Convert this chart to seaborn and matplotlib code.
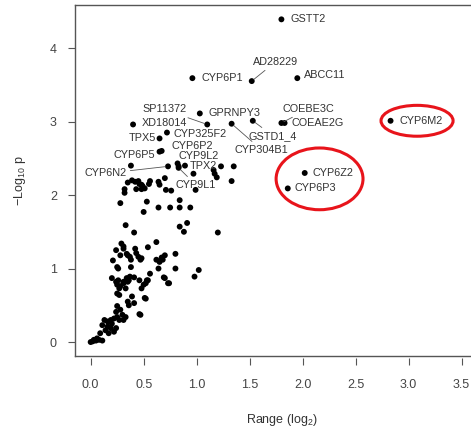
import pandas as pd
import seaborn as sns
import matplotlib.pyplot as plt
from matplotlib.patches import Ellipse

# labelled genes
genes = ["GSTT2", "AD28229", "CYP6P1", "ABCC11", "SP11372", "GPRNPY3", "XD18014",
         "CYP304B1", "GSTD1_4", "COEBE3C", "COEAE2G", "CYP6M2", "TPX5", "CYP325F2",
         "CYP6P5", "CYP6P2", "CYP9L2", "TPX2", "CYP9L1", "CYP6N2", "CYP6Z2", "CYP6P3"]
gene_range = [1.80, 1.52, 0.96, 1.95, 1.10, 1.03, 0.40,
              1.33, 1.53, 1.80, 1.83, 2.83, 0.65, 0.72,
              0.67, 0.82, 0.83, 0.89, 0.83, 0.73, 2.02, 1.86]
gene_logp = [4.39, 3.55, 3.59, 3.59, 2.96, 3.11, 2.96,
             2.97, 3.01, 2.98, 2.98, 3.01, 2.77, 2.85,
             2.60, 2.43, 2.39, 2.40, 2.37, 2.39, 2.30, 2.09]

# unlabelled genes
other_range = [0.38, 0.65, 1.23, 1.35, 1.16, 1.17, 1.19, 1.33, 0.97, 0.99,
               0.35, 0.32, 0.32, 0.42, 0.46, 0.48, 0.49, 0.51, 0.48, 0.43,
               0.56, 0.55, 0.64, 0.65, 0.70, 0.71, 0.76, 0.39, 0.45,
               0.28, 0.53, 0.50, 0.64, 0.75, 0.84, 0.94, 0.84,
               0.33, 0.41, 0.84, 0.91, 0.88, 1.20,
               0.29, 0.24, 0.31, 0.34, 0.28, 0.21, 0.25, 0.38,
               0.42, 0.43, 0.45, 0.47, 0.48, 0.37, 0.38, 0.31, 0.35,
               0.54, 0.62, 0.62, 0.67, 0.68, 0.70, 0.64, 0.65, 0.80, 0.80,
               1.02, 0.56, 0.98, 0.73, 0.70, 0.54, 0.52, 0.48, 0.51, 0.47, 0.26,
               0.20, 0.26, 0.28, 0.31, 0.36, 0.34, 0.37, 0.24, 0.25, 0.31,
               0.33, 0.35, 0.27, 0.25, 0.27,
               0.41, 0.46, 0.53, 0.50, 0.69, 0.74, 0.39, 0.41, 0.35, 0.36, 0.46, 0.52,
               0.25, 0.24, 0.28, 0.30, 0.33, 0.31, 0.25, 0.22, 0.19, 0.16,
               0.13, 0.11, 0.16, 0.14, 0.19, 0.22, 0.24, 0.17, 0.09, 0.06,
               0.03, 0.00, 0.08, 0.11, 0.20, 0.27, 0.05, 0.02]
other_logp = [2.40, 2.59, 2.39, 2.39, 2.34, 2.29, 2.24, 2.19, 2.29, 2.07,
              2.17, 2.08, 2.03, 2.18, 2.15, 2.14, 2.12, 2.09, 2.08, 2.08,
              2.19, 2.15, 2.18, 2.14, 2.23, 2.07, 2.06, 2.20, 2.19,
              1.89, 1.91, 1.77, 1.83, 1.83, 1.83, 1.83, 1.93,
              1.59, 1.49, 1.57, 1.62, 1.50, 1.49,
              1.34, 1.25, 1.27, 1.20, 1.18, 1.11, 1.02, 1.02,
              1.27, 1.21, 1.16, 1.12, 1.14, 1.16, 1.12, 1.30, 1.18,
              1.29, 1.36, 1.12, 1.15, 1.12, 1.18, 1.00, 1.09, 1.20, 1.00,
              0.98, 0.93, 0.89, 0.80, 0.87, 0.84, 0.80, 0.73, 0.60, 0.37, 1.00,
              0.87, 0.84, 0.76, 0.82, 0.84, 0.87, 0.89, 0.82, 0.78, 0.80,
              0.73, 0.82, 0.73, 0.66, 0.64,
              0.88, 0.84, 0.84, 0.78, 0.88, 0.80, 0.62, 0.53, 0.55, 0.50, 0.38, 0.59,
              0.49, 0.41, 0.44, 0.37, 0.34, 0.30, 0.34, 0.32, 0.30, 0.28,
              0.30, 0.23, 0.21, 0.16, 0.19, 0.14, 0.19, 0.12, 0.12, 0.05,
              0.03, 0.00, 0.03, 0.02, 0.25, 0.30, 0.02, 0.01]

df = pd.DataFrame({
    "range": gene_range + other_range,
    "logp": gene_logp + other_logp,
})

# label placement: offset of text from its dot in pixels (right, up), alignment, leader line
label_pos = {
    "GSTT2": (9, 0, "left", False), "AD28229": (1, 19, "left", True),
    "CYP6P1": (9, 0, "left", False), "ABCC11": (7, 3, "left", False),
    "SP11372": (-21, 15, "right", True), "GPRNPY3": (9, 0, "left", False),
    "XD18014": (9, 1, "left", False), "CYP304B1": (3, -26, "left", True),
    "GSTD1_4": (-4, -15, "left", True), "COEBE3C": (1, 14, "left", True),
    "COEAE2G": (7, 0, "left", False), "CYP6M2": (9, 0, "left", False),
    "TPX5": (-3, 0, "right", False), "CYP325F2": (7, -1, "left", False),
    "CYP6P5": (-7, -4, "right", False), "CYP6P2": (-6, 17, "left", False),
    "CYP9L2": (0, 10, "left", False), "TPX2": (5, 0, "left", False),
    "CYP9L1": (-3, -17, "left", True), "CYP6N2": (-41, -7, "right", True),
    "CYP6Z2": (8, 0, "left", False), "CYP6P3": (7, 0, "left", False),
}

sns.set_style("white")
plt.rcParams["font.family"] = ["Liberation Sans", "DejaVu Sans"]
plt.rcParams["mathtext.fontset"] = "custom"
plt.rcParams["mathtext.rm"] = "Liberation Sans"

dpi = 100
fig = plt.figure(figsize=(4.71, 4.32), dpi=dpi)
ax = fig.add_axes([0.1592, 0.1759, 0.877, 0.8125])

sns.scatterplot(data=df, x="range", y="logp", ax=ax, color="black",
                s=18, edgecolor="none", linewidth=0)

pt = 72 / dpi
grey = "#444444"
for g, gx, gy in zip(genes, gene_range, gene_logp):
    dx, dy, ha, line = label_pos[g]
    ax.annotate(g, (gx, gy), xytext=(dx * pt, dy * pt), textcoords="offset points",
                ha=ha, va="center", fontsize=7.8, color="#333333",
                arrowprops=dict(arrowstyle="-", lw=0.6, color="#555555",
                                shrinkA=0, shrinkB=2) if line else None)

# red circles around the highlighted genes
for cx, cy, w, h in [(3.08, 3.01, 0.68, 0.42), (2.16, 2.22, 0.82, 0.84)]:
    ax.add_patch(Ellipse((cx, cy), w, h, fill=False, edgecolor="#e8141b", lw=2.2))

ax.set_xlim(-0.148, 3.75)
ax.set_ylim(-0.19, 4.585)

for s in ax.spines.values():
    s.set_color("#555555")
    s.set_linewidth(1.0)

ax.set_yticks([0, 1, 2, 3, 4])
ax.tick_params(axis="y", left=True, direction="out", length=5, width=0.8,
               color="#555555", labelsize=9, labelcolor=grey, pad=8)
ax.tick_params(axis="x", bottom=False, labelbottom=False)
ax.set_xlabel("")
ax.set_ylabel(r"$\mathregular{-Log_{10}\ p}$", fontsize=9, color="#333333", labelpad=16)

secx = ax.secondary_xaxis(-0.007)
secx.spines["bottom"].set_visible(False)
secx.set_xticks([0.0, 0.5, 1.0, 1.5, 2.0, 2.5, 3.0, 3.5])
secx.set_xticklabels(["0.0", "0.5", "1.0", "1.5", "2.0", "2.5", "3.0", "3.5"])
secx.tick_params(direction="out", length=5, width=0.8, color="#555555",
                 labelsize=9, labelcolor=grey, pad=10)
secx.set_xlabel(r"Range (log$_2$)", fontsize=9, color="#333333", labelpad=15)

fig.savefig("out.png", dpi=dpi)
plt.close(fig)
